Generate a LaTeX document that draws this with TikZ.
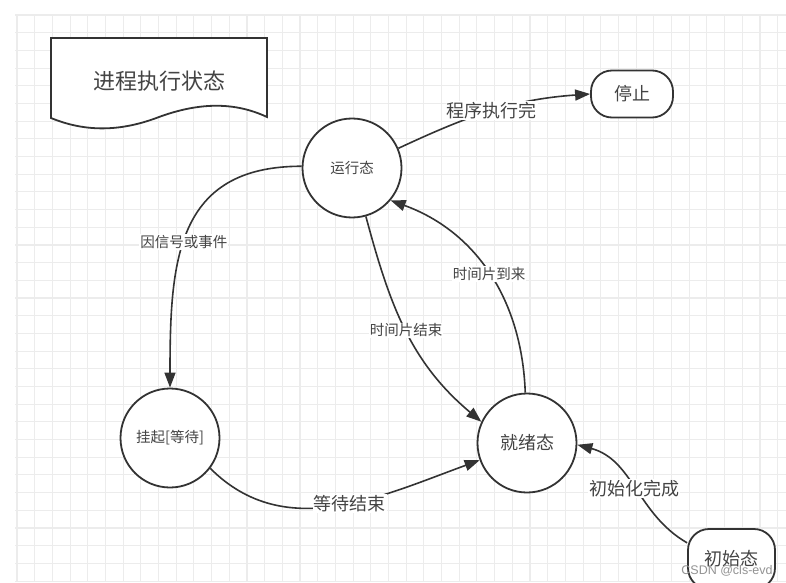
\documentclass[tikz,border=0pt]{standalone}
\usepackage{fontspec}
\setmainfont{Noto Sans CJK SC}
\newfontfamily\wmfont{Liberation Sans}
\usepackage{tikz}
\usetikzlibrary{arrows.meta}
\usetikzlibrary{calc,backgrounds}
\definecolor{ink} {RGB} {51, 51, 51}
\definecolor{txt} {RGB} {68, 68, 68}
\definecolor{gridc} {RGB} {236, 236, 236}
\tikzstyle{psd}=[
  x=1pt, y=1pt, text=txt
]
\tikzstyle{psdsmall}=[
  font=\fontsize{14.5}{16}\selectfont
]
\tikzstyle{psdbig}=[
  font=\fontsize{18}{20}\selectfont
]
\tikzstyle{psdstate}=[
  circle, draw=ink, line width=1.8pt, fill=white, minimum size=99pt, inner sep=0pt
]
\tikzstyle{psdterm}=[
  draw=ink, line width=1.8pt, fill=white, rounded corners=21pt, psdbig
]
\tikzstyle{psdedge}=[
  -{Triangle[length=15pt,width=11pt]}, draw=ink, line width=1.6pt
]
\tikzstyle{psdlabel}=[
  fill=white, inner sep=1pt, text=txt
]
\tikzstyle{psdgrid}=[
  draw=gridc, line width=1.1pt
]

\begin{document}
\begin{tikzpicture}[psd]
\useasboundingbox (0,0) rectangle (786,582);
\begin{scope}[on background layer]
\fill [white] (0,0) rectangle (786,582);
\foreach \i in {0,...,43}
  \draw [psdgrid] (17+\i*17.69, 0) -- (17+\i*17.69, 567);
\foreach \j in {0,...,32}
  \draw [psdgrid] (15, 567-\j*17.69) -- (786, 567-\j*17.69);
\end{scope}

% title
\draw [draw=ink, line width=1.8pt, fill=white] (51,544) -- (267,544) -- (267,465)
  .. controls (235,480) and (200,480) .. (159,465)
  .. controls (120,450) and (85,450) .. (51,464) -- cycle;
\node (title) [font=\fontsize{22}{24}\selectfont] at (159,501) {进程执行状态};

\node (run) [psdstate, psdsmall] at (352,414) {运行态};
\node (stop) [psdterm, minimum width=82pt, minimum height=47pt] at (632,488) {停止};
\node (wait) [psdstate, psdsmall] at (170,144) {挂起[等待]};
\node (ready) [psdstate, psdbig] at (527,139) {就绪态};
\node (init) [psdterm, minimum width=87pt, minimum height=60pt] at (731.5,23) {初始态};

\draw [psdedge] (run.23) to[out=25, in=184]
    node[psdlabel, psdbig, pos=0.5] {程序执行完} (stop.west);
\draw [psdedge] (run.178) to[out=180, in=90, looseness=1.25]
    node[psdlabel, psdsmall, pos=0.55] {因信号或事件} (wait.north);
\draw [psdedge] (run.-74) to[out=-75, in=140]
    node[psdlabel, psdsmall, pos=0.5] {时间片结束} (ready.155);
\draw [psdedge] (ready.92) to[out=92, in=-20]
    node[psdlabel, psdsmall, pos=0.5] {时间片到来} (run.-40);
\draw [psdedge] (wait.-37) to[out=-45, in=200]
    node[psdlabel, psdbig, pos=0.55] {等待结束} (ready.-160);
\draw [psdedge] (init.160) to[out=150, in=-15]
    node[psdlabel, psdbig, pos=0.5] {初始化完成} (ready.-2);

\node (wm) [font=\wmfont\fontsize{12.5}{14}\selectfont, text=gray!85] at (727,11) {CSDN @cls-evd};
\end{tikzpicture}
\end{document}
